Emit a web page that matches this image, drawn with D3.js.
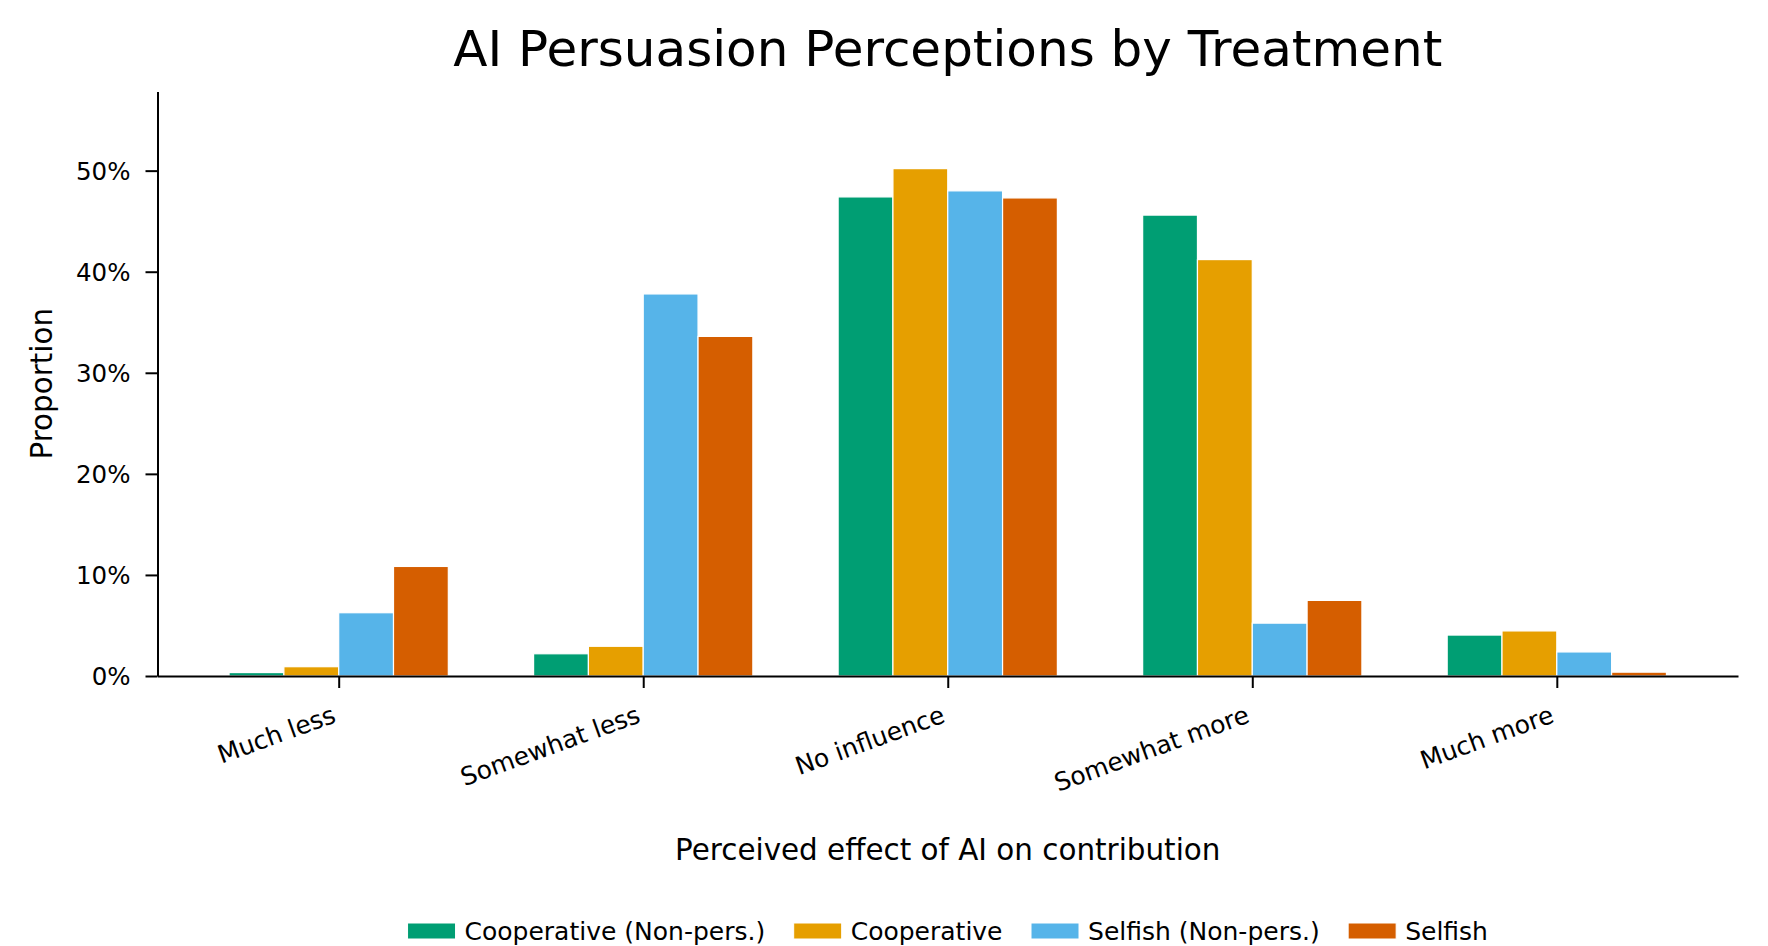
<!DOCTYPE html>
<html>
<head>
<meta charset="utf-8">
<script src="https://cdn.jsdelivr.net/npm/d3@7"></script>
<style>
  body { margin: 0; background: #fff; }
  svg { font-family: "DejaVu Sans", sans-serif; display: block; }
</style>
</head>
<body>
<div class="graph"></div>
<script>
// categories on the x axis
const categories = ["Much less", "Somewhat less", "No influence", "Somewhat more", "Much more"];
// treatments (legend order)
const seriesNames = ["Cooperative (Non-pers.)", "Cooperative", "Selfish (Non-pers.)", "Selfish"];
const seriesColors = ["#009E73", "#E69F00", "#56B4E9", "#D55E00"];
// proportions
const coopNonPers = [0.0034, 0.022, 0.474, 0.456, 0.0405];
const coop = [0.0092, 0.0294, 0.502, 0.412, 0.0446];
const selfishNonPers = [0.0626, 0.378, 0.480, 0.0523, 0.0238];
const selfish = [0.1084, 0.336, 0.473, 0.0748, 0.0038];
const yTicks = [0, 0.1, 0.2, 0.3, 0.4, 0.5];

const allSeries = [coopNonPers, coop, selfishNonPers, selfish];

const W = 1768, H = 946;
const svg = d3.select(".graph").append("svg").attr("width", W).attr("height", H);

const plotLeft = 157.5, plotRight = 1738, plotTop = 91.5, plotBottom = 676;
const barW = 0.18;
const tickFont = "25px";

const xScale = d3.scaleLinear().domain([-0.595, 4.595]).range([plotLeft, plotRight]);
const yMax = d3.max(allSeries.flat()) * 1.152;
const yScale = d3.scaleLinear().domain([0, yMax]).range([plotBottom, plotTop]);

// bars
allSeries.forEach((vals, s) => {
    svg.append("g")
        .selectAll("rect")
        .data(vals)
        .join("rect")
        .attr("x", (d, i) => xScale(i + (s - 1.5) * barW - barW / 2))
        .attr("width", xScale(barW) - xScale(0))
        .attr("y", d => yScale(d))
        .attr("height", d => plotBottom - yScale(d))
        .attr("fill", seriesColors[s])
        .attr("stroke", "#fff")
        .attr("stroke-width", 1.2);
});

// axes
const xaxis = d3.axisBottom(xScale)
    .tickValues(d3.range(categories.length))
    .tickFormat(i => categories[i])
    .tickSize(12)
    .tickSizeOuter(0);
const gx = svg.append("g")
    .attr("transform", "translate(0," + plotBottom + ")")
    .call(xaxis);
gx.select(".domain").attr("stroke-width", 2);
gx.selectAll(".tick line").attr("stroke-width", 2);
gx.selectAll("text")
    .style("font-size", tickFont)
    .style("font-family", "DejaVu Sans")
    .style("text-anchor", "end")
    .attr("x", -2)
    .attr("y", 0)
    .attr("dy", null)
    .attr("transform", "translate(0,45) rotate(-20)");

const yaxis = d3.axisLeft(yScale)
    .tickValues(yTicks)
    .tickFormat(d3.format(".0%"))
    .tickSize(12)
    .tickPadding(15)
    .tickSizeOuter(0);
const gy = svg.append("g")
    .attr("transform", "translate(" + plotLeft + ",0)")
    .call(yaxis);
gy.select(".domain").attr("stroke-width", 2);
gy.selectAll(".tick line").attr("stroke-width", 2);
gy.selectAll("text")
    .style("font-size", "24.5px")
    .style("font-family", "DejaVu Sans")
    .attr("dy", "0.36em");

// title and labels
svg.append("text")
    .attr("x", (plotLeft + plotRight) / 2)
    .attr("y", 66)
    .attr("text-anchor", "middle")
    .style("font-size", "50px")
    .text("AI Persuasion Perceptions by Treatment");

svg.append("text")
    .attr("x", (plotLeft + plotRight) / 2)
    .attr("y", 860)
    .attr("text-anchor", "middle")
    .style("font-size", "29.4px")
    .text("Perceived effect of AI on contribution");

svg.append("text")
    .attr("transform", "translate(52," + (plotTop + plotBottom) / 2 + ") rotate(-90)")
    .attr("text-anchor", "middle")
    .style("font-size", "29.4px")
    .text("Proportion");

// legend
const legend = svg.append("g");
const swW = 48, swH = 16, textPad = 9, colGap = 28.5;
let lx = 0;
seriesNames.forEach((name, s) => {
    const item = legend.append("g").attr("transform", "translate(" + lx + ",0)");
    item.append("rect")
        .attr("x", 0).attr("y", -swH / 2)
        .attr("width", swW).attr("height", swH)
        .attr("fill", seriesColors[s])
        .attr("stroke", "#fff").attr("stroke-width", 1);
    const t = item.append("text")
        .attr("x", swW + textPad)
        .attr("dy", "0.36em")
        .style("font-size", tickFont)
        .text(name);
    lx += swW + textPad + t.node().getComputedTextLength() + colGap;
});
lx -= colGap;
legend.attr("transform", "translate(" + ((plotLeft + plotRight) / 2 - lx / 2) + ",931)");
</script>
</body>
</html>
